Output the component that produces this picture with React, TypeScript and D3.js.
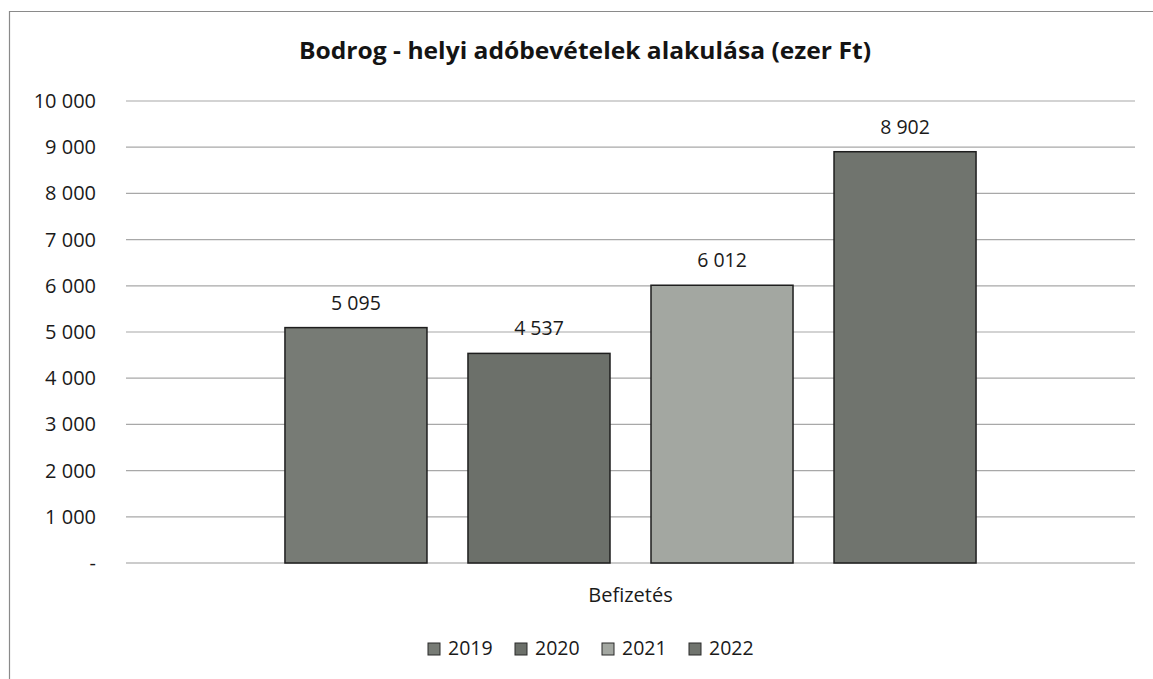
import React from "react";
import * as d3 from "d3";

const categories = ["Befizetés"];
const seriesNames = ["2019", "2020", "2021", "2022"];
const seriesValues = [5095, 4537, 6012, 8902];
const seriesColors = ["#777b75", "#6c706a", "#a3a7a1", "#70746e"];
const yTicks = [0, 1000, 2000, 3000, 4000, 5000, 6000, 7000, 8000, 9000, 10000];
const title = "Bodrog - helyi adóbevételek alakulása (ezer Ft)";

const W = 1153;
const H = 679;
const FONT = "'Open Sans', Lato, sans-serif";

const fmt = (v: number) => {
  if (v === 0) return "-";
  const s = Math.round(v).toString();
  return s.replace(/\B(?=(\d{3})+(?!\d))/g, " ");
};

export default function App() {
  const plotLeft = 126;
  const plotRight = 1135;
  const plotTop = 101;
  const plotBottom = 563;

  const y = d3.scaleLinear().domain([0, 10000]).range([plotBottom, plotTop]);
  const x0 = d3
    .scaleBand<string>()
    .domain(categories)
    .range([plotLeft, plotRight])
    .paddingInner(0)
    .paddingOuter(0.23);
  const x1 = d3
    .scaleBand<string>()
    .domain(seriesNames)
    .range([0, x0.bandwidth()])
    .paddingInner(0.224)
    .paddingOuter(0);

  const legendItems = seriesNames.map((n, i) => ({ n, c: seriesColors[i] }));
  const legendStart = 428;
  const legendStep = 87;

  return (
    <svg
      width={W}
      height={H}
      style={{ position: "absolute", left: 0, top: 0, background: "#fff" }}
    >
      <rect x={0} y={0} width={W} height={H} fill="#fff" />
      <line x1={9} y1={11.5} x2={W} y2={11.5} stroke="#8a8a8a" strokeWidth={1} />
      <line x1={9.5} y1={11} x2={9.5} y2={H} stroke="#8a8a8a" strokeWidth={1.2} />

      <text
        x={585}
        y={59}
        textAnchor="middle"
        fontFamily={FONT}
        fontWeight={700}
        fontSize={22.5}
        textLength={572}
        lengthAdjust="spacingAndGlyphs"
        fill="#141414"
      >
        {title}
      </text>

      {yTicks.map((t) => (
        <g key={t}>
          <line
            x1={plotLeft}
            x2={plotRight}
            y1={y(t)}
            y2={y(t)}
            stroke={t === 0 ? "#9a9a9a" : "#a8a8a8"}
            strokeWidth={1.2}
          />
          <text
            x={96}
            y={y(t)}
            dy="0.35em"
            textAnchor="end"
            fontFamily={FONT}
            fontSize={20}
            fill="#1a1a1a"
          >
            {fmt(t)}
          </text>
        </g>
      ))}

      {categories.map((cat) => (
        <g key={cat} transform={`translate(${x0(cat)},0)`}>
          {seriesNames.map((s, i) => {
            const v = seriesValues[i];
            const bx = x1(s)!;
            const bw = x1.bandwidth();
            return (
              <g key={s}>
                <rect
                  x={bx}
                  y={y(v)}
                  width={bw}
                  height={y(0) - y(v)}
                  fill={seriesColors[i]}
                  stroke="#1e1e1e"
                  strokeWidth={1.5}
                />
                <text
                  x={bx + bw / 2}
                  y={y(v) - 18}
                  textAnchor="middle"
                  fontFamily={FONT}
                  fontSize={19.5}
                  fill="#1a1a1a"
                >
                  {fmt(v)}
                </text>
              </g>
            );
          })}
          <text
            x={x0.bandwidth() / 2}
            y={602}
            textAnchor="middle"
            fontFamily={FONT}
            fontSize={20}
            fill="#1a1a1a"
          >
            {cat}
          </text>
        </g>
      ))}

      {legendItems.map((it, i) => (
        <g key={it.n} transform={`translate(${legendStart + i * legendStep},0)`}>
          <rect
            x={0}
            y={643}
            width={12}
            height={12}
            fill={it.c}
            stroke="#2a2a2a"
            strokeWidth={1}
          />
          <text
            x={20}
            y={655}
            fontFamily={FONT}
            fontSize={19.5}
            fill="#1a1a1a"
          >
            {it.n}
          </text>
        </g>
      ))}
    </svg>
  );
}
